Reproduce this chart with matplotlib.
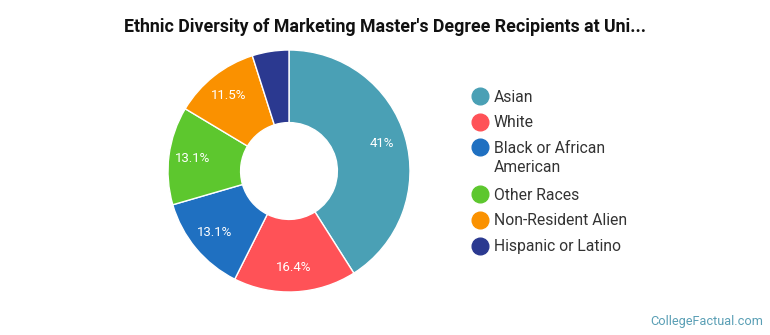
import matplotlib
matplotlib.use("Agg")
import matplotlib.pyplot as plt
import numpy as np

plt.rcParams['font.family'] = ['Roboto', 'DejaVu Sans']

categories = ["Asian", "White", "Black or African\nAmerican", "Other Races",
              "Non-Resident Alien", "Hispanic or Latino"]
values = [41.0, 16.4, 13.1, 13.1, 11.5, 4.9]
labels = ["41%", "16.4%", "13.1%", "13.1%", "11.5%", ""]
colors = ["#4AA0B5", "#FF5257", "#1F70C1", "#5DC72E", "#FA9100", "#2B3990"]
title = "Ethnic Diversity of Marketing Master's Degree Recipients at Uni..."

W, H = 770, 335
fig = plt.figure(figsize=(W / 100, H / 100), dpi=100)

cx, cy, r = 289, 171, 121
ax = fig.add_axes([(cx - r) / W, (H - cy - r) / H, 2 * r / W, 2 * r / H])
wedges, _ = ax.pie(values, colors=colors, startangle=90, counterclock=False,
                   radius=1.0, wedgeprops=dict(width=0.6, edgecolor="white", linewidth=1.0))
theta = 90.0
for v, lab in zip(values, labels):
    ang = theta - v * 3.6 / 2
    theta -= v * 3.6
    if lab:
        x = 0.8 * np.cos(np.radians(ang))
        y = 0.8 * np.sin(np.radians(ang))
        ax.text(x, y, lab, ha="center", va="center", color="white", fontsize=9.5)
ax.set_xlim(-1, 1)
ax.set_ylim(-1, 1)
ax.set_aspect("equal")
ax.axis("off")

fig.text(385 / W, 1 - 27 / H, title, ha="center", va="center",
         fontsize=12.8, fontweight="bold", color="#111111")

# legend drawn manually so the marker aligns with the first line of each entry
lax = fig.add_axes([0, 0, 1, 1], facecolor="none")
lax.set_xlim(0, W)
lax.set_ylim(H, 0)
lax.axis("off")
y = 96
for cat, c in zip(categories, colors):
    lax.plot([480], [y], marker="o", markersize=12, color=c, linestyle="")
    lax.text(494, y - 6.5, cat, ha="left", va="top", fontsize=11.3, color="#333333",
             linespacing=1.35)
    nlines = cat.count("\n") + 1
    y += 25.7 + (nlines - 1) * 21

fig.text(763 / W, 1 - 321 / H, "CollegeFactual.com", ha="right", va="center",
         fontsize=9.2, color="#5A9FB5")

fig.savefig("out.png", dpi=100)
